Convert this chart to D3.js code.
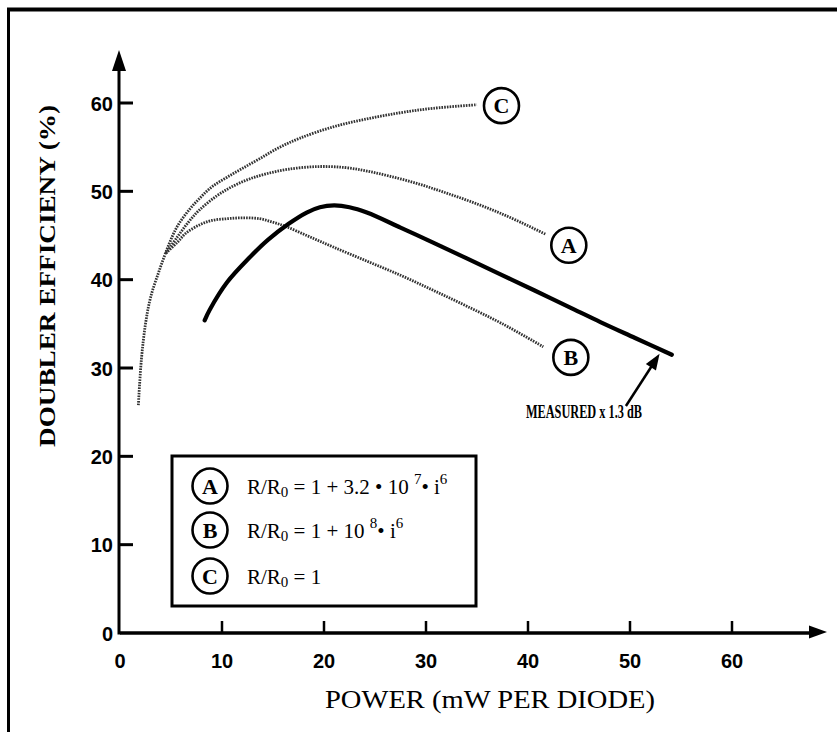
<!DOCTYPE html>
<html>
<head>
<meta charset="utf-8">
<script src="https://cdn.jsdelivr.net/npm/d3@7"></script>
<style>
  body { margin: 0; background: #fff; }
  svg { display: block; }
</style>
</head>
<body>
<svg id="chart" width="837" height="732"></svg>
<script>
// Data (x = mW per diode, y = efficiency %)
const curveC = [[1.8,25.8],[2.1,31],[2.5,35],[3.0,38],[3.9,41.2],[4.8,44],[5.6,46],[6.7,47.8],[7.8,49.2],[9.0,50.5],[10.5,51.6],[12,52.6],[13.7,53.7],[15.5,54.9],[17.6,56.0],[20.9,57.3],[24.2,58.2],[27.5,58.9],[30.7,59.4],[35,59.8]];
const curveA = [[4.5,43],[5.6,44.8],[6.7,46.5],[7.8,47.9],[9.5,49.5],[11.1,50.6],[12.7,51.4],[14.4,52.0],[16.5,52.5],[19.3,52.8],[22,52.7],[24.2,52.3],[26.5,51.7],[29.1,50.9],[31.5,50],[34,49],[36.5,47.9],[38.9,46.7],[41.8,45.1]];
const curveB = [[4.5,43],[5.6,44.2],[6.5,45.3],[7.8,46.2],[9,46.7],[10.5,46.9],[12,47],[13.7,46.9],[15,46.5],[16.3,46],[18.5,44.9],[20.9,43.7],[24.2,42.1],[27.5,40.5],[30.7,38.8],[34,37],[37.5,35],[41.5,32.4]];
const measured = [[8.3,35.4],[8.8,36.6],[10.5,39.7],[12.7,42.5],[14.5,44.5],[16.5,46.3],[18.3,47.6],[19.6,48.2],[21,48.4],[22.5,48.2],[24.2,47.6],[27.5,45.9],[30.7,44.2],[34,42.4],[37.3,40.6],[40.6,38.8],[44.4,36.7],[47.1,35.2],[50.5,33.4],[54.1,31.5]];

const xTicks = [10, 20, 30, 40, 50, 60];
const xTickLabels = ["0", "10", "20", "30", "40", "50", "60"];
const yTicks = [10, 20, 30, 40, 50, 60];
const yTickLabels = ["0", "10", "20", "30", "40", "50", "60"];

// curve end labels (letter, x, y in data units)
const curveLabels = [["C", 37.4, 59.7], ["A", 44, 43.9], ["B", 44.2, 31.2]];
const legendLetters = ["A", "B", "C"];
const measuredNote = { text: "MEASURED x 1.3 dB", x: 39.8, y: 24.3 };
const measuredArrow = [[49.6, 25.7], [52.9, 31.6]];

const svg = d3.select("#chart");
const serif = "'Liberation Serif', 'Times New Roman', serif";
const digits = "'Liberation Sans Narrow', 'Liberation Sans', Arial, sans-serif";

const x = d3.scaleLinear().domain([0, 60]).range([120, 732]);
const y = d3.scaleLinear().domain([0, 60]).range([633, 103]);

// scan frame (top and left edges only)
svg.append("line").attr("x1", 7).attr("x2", 837).attr("y1", 9.5).attr("y2", 9.5)
  .attr("stroke", "#000").attr("stroke-width", 4);
svg.append("line").attr("x1", 8.5).attr("x2", 8.5).attr("y1", 8).attr("y2", 732)
  .attr("stroke", "#000").attr("stroke-width", 3);

// axes
const axes = svg.append("g").attr("stroke", "#000").attr("fill", "none");
axes.append("line").attr("x1", x(0)).attr("x2", 812).attr("y1", y(0)).attr("y2", y(0))
  .attr("stroke-width", 3.5);
axes.append("line").attr("x1", x(0) - 1).attr("x2", x(0) - 1).attr("y1", y(0) + 1.5).attr("y2", 66)
  .attr("stroke-width", 3);
svg.append("path").attr("d", `M827,${y(0) - 1}L809,${y(0) - 7.5}L809,${y(0) + 5.5}Z`).attr("fill", "#000");
svg.append("path").attr("d", `M${x(0) - 1},50L${x(0) - 8},71L${x(0) + 6},71Z`).attr("fill", "#000");

axes.selectAll(".xt").data(xTicks).join("line")
  .attr("x1", d => x(d)).attr("x2", d => x(d))
  .attr("y1", y(0)).attr("y2", y(0) - 12).attr("stroke-width", 2.5);
axes.selectAll(".yt").data(yTicks).join("line")
  .attr("x1", x(0)).attr("x2", x(0) + 13)
  .attr("y1", d => y(d)).attr("y2", d => y(d)).attr("stroke-width", 3);

svg.selectAll(".xl").data(xTickLabels).join("text")
  .attr("x", d => x(+d)).attr("y", 668)
  .attr("text-anchor", "middle")
  .attr("font-family", digits).attr("font-size", 20).attr("font-weight", "bold")
  .text(d => d);
svg.selectAll(".yl").data(yTickLabels).join("text")
  .attr("x", 113).attr("y", d => y(+d) + 7.5)
  .attr("text-anchor", "end")
  .attr("font-family", digits).attr("font-size", 20).attr("font-weight", "bold")
  .text(d => d);

// axis titles
svg.append("text").attr("x", 490).attr("y", 708)
  .attr("text-anchor", "middle").attr("font-family", serif).attr("font-size", 25)
  .attr("textLength", 330).attr("lengthAdjust", "spacingAndGlyphs")
  .text("POWER (mW PER DIODE)");
svg.append("text").attr("transform", "translate(55,276) rotate(-90)")
  .attr("text-anchor", "middle").attr("font-family", serif).attr("font-size", 24)
  .attr("font-weight", "bold")
  .attr("textLength", 342).attr("lengthAdjust", "spacingAndGlyphs")
  .text("DOUBLER EFFICIENY (%)");

// curves
const line = d3.line().x(d => x(d[0])).y(d => y(d[1])).curve(d3.curveCatmullRom);
[curveC, curveA, curveB].forEach(c => {
  svg.append("path").attr("d", line(c)).attr("fill", "none")
    .attr("stroke", "#333").attr("stroke-width", 2.8)
    .attr("stroke-dasharray", "1.6 1.1");
});
svg.append("path").attr("d", line(measured)).attr("fill", "none")
  .attr("stroke", "#000").attr("stroke-width", 4.2).attr("stroke-linecap", "round");

// circled letters at curve ends
function circled(g, letter, cx, cy) {
  g.append("circle").attr("cx", cx).attr("cy", cy).attr("r", 17.5)
    .attr("fill", "#fff").attr("stroke", "#000").attr("stroke-width", 2.6);
  g.append("text").attr("x", cx).attr("y", cy + 7.5)
    .attr("text-anchor", "middle").attr("font-family", serif).attr("font-size", 22)
    .attr("font-weight", "bold")
    .text(letter);
}
curveLabels.forEach(([l, lx, ly]) => circled(svg, l, x(lx), y(ly)));

// measured annotation
svg.append("text").attr("x", x(measuredNote.x)).attr("y", y(measuredNote.y))
  .attr("font-family", serif).attr("font-size", 18).attr("font-weight", "bold")
  .attr("textLength", 116).attr("lengthAdjust", "spacingAndGlyphs")
  .text(measuredNote.text);
const [a0, a1] = measuredArrow;
const ax0 = x(a0[0]), ay0 = y(a0[1]), ax1 = x(a1[0]), ay1 = y(a1[1]);
const ang = Math.atan2(ay1 - ay0, ax1 - ax0);
svg.append("line").attr("x1", ax0).attr("y1", ay0)
  .attr("x2", ax1 - 12 * Math.cos(ang)).attr("y2", ay1 - 12 * Math.sin(ang))
  .attr("stroke", "#000").attr("stroke-width", 2.5);
svg.append("path").attr("fill", "#000")
  .attr("transform", `translate(${ax1},${ay1}) rotate(${ang * 180 / Math.PI})`)
  .attr("d", "M0,0L-16,-6L-16,6Z");

// legend box
const lg = svg.append("g");
lg.append("rect").attr("x", 172).attr("y", 456).attr("width", 304).attr("height", 150)
  .attr("fill", "#fff").attr("stroke", "#000").attr("stroke-width", 3);
const legRows = [486, 530, 576];
legendLetters.forEach((l, i) => circled(lg, l, 210, legRows[i]));

function eqText(row) {
  return lg.append("text").attr("x", 247).attr("y", row + 8)
    .attr("font-family", serif).attr("font-size", 21);
}
let t = eqText(legRows[0]);
t.append("tspan").text("R/R");
t.append("tspan").attr("font-size", 15).attr("dy", 3).text("0");
t.append("tspan").attr("dy", -3).text(" = 1 + 3.2 \u2022 10 ");
t.append("tspan").attr("font-size", 15).attr("dy", -10).text("7");
t.append("tspan").attr("dy", 10).text("\u2022  i");
t.append("tspan").attr("font-size", 15).attr("dy", -10).text("6");

t = eqText(legRows[1]);
t.append("tspan").text("R/R");
t.append("tspan").attr("font-size", 15).attr("dy", 3).text("0");
t.append("tspan").attr("dy", -3).text(" = 1 + 10 ");
t.append("tspan").attr("font-size", 15).attr("dy", -10).text("8");
t.append("tspan").attr("dy", 10).text("\u2022  i");
t.append("tspan").attr("font-size", 15).attr("dy", -10).text("6");

t = eqText(legRows[2]);
t.append("tspan").text("R/R");
t.append("tspan").attr("font-size", 15).attr("dy", 3).text("0");
t.append("tspan").attr("dy", -3).text(" = 1");
</script>
</body>
</html>
